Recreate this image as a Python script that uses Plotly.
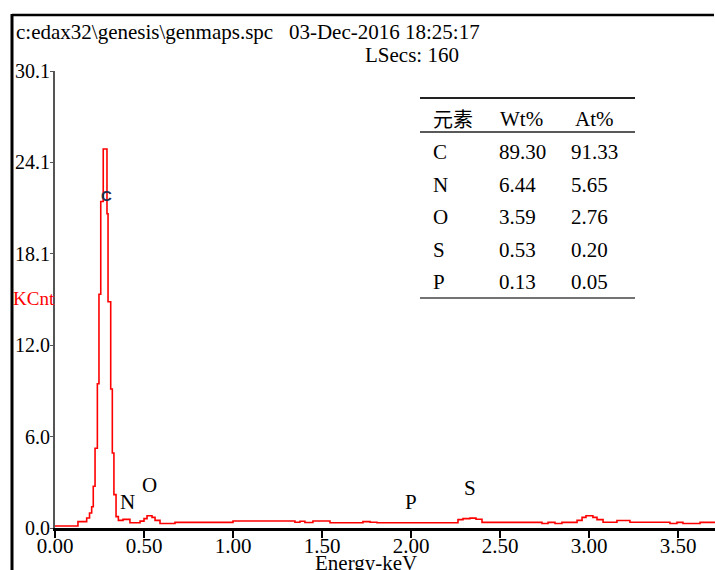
import plotly.graph_objects as go

# ---------------- data ----------------
energy_kev = [0.000, 0.129, 0.178, 0.194, 0.206, 0.215, 0.225, 0.238, 0.247, 0.257,
              0.271, 0.292, 0.298, 0.313, 0.322, 0.331, 0.343, 0.356, 0.382, 0.421,
              0.478, 0.500, 0.517, 0.545, 0.562, 0.590, 0.674, 1.000, 1.348, 1.376,
              1.404, 1.449, 1.545, 1.730, 1.770, 1.809, 2.264, 2.292, 2.331, 2.365,
              2.399, 2.736, 2.770, 2.809, 2.848, 2.933, 2.961, 2.983, 3.022, 3.045,
              3.079, 3.157, 3.230, 3.455, 3.494, 3.528, 3.624, 3.708]
kcnt = [0.13, 0.42, 0.66, 0.99, 1.40, 2.75, 5.25, 9.50, 15.40, 21.50,
        24.96, 20.70, 14.90, 9.16, 4.94, 2.20, 0.75, 0.50, 0.57, 0.35,
        0.45, 0.62, 0.81, 0.70, 0.50, 0.30, 0.37, 0.46, 0.38, 0.44,
        0.36, 0.46, 0.35, 0.42, 0.38, 0.35, 0.55, 0.62, 0.65, 0.58,
        0.37, 0.30, 0.37, 0.30, 0.37, 0.50, 0.70, 0.81, 0.70, 0.55,
        0.38, 0.49, 0.38, 0.30, 0.37, 0.30, 0.37, 0.37]

x_tickvals = [0.0, 0.5, 1.0, 1.5, 2.0, 2.5, 3.0, 3.5]
x_ticktext = ["0.00", "0.50", "1.00", "1.50", "2.00", "2.50", "3.00", "3.50"]
y_tickvals = [0.0, 6.02, 12.04, 18.06, 24.08, 30.1]
y_ticktext = ["0.0", "6.0", "12.0", "18.1", "24.1", "30.1"]

peak_labels = ["N", "O", "P", "S"]
peak_label_x = [0.41, 0.53, 2.00, 2.33]
peak_label_y = [1.71, 2.83, 1.73, 2.64]

table_elements = ["C", "N", "O", "S", "P"]
table_wt = ["89.30", "6.44", "3.59", "0.53", "0.13"]
table_at = ["91.33", "5.65", "2.76", "0.20", "0.05"]

header_text = "c:edax32\\genesis\\genmaps.spc   03-Dec-2016 18:25:17"
lsecs_text = "LSecs: 160"

# ---------------- layout geometry (pixels) ----------------
W, H = 715, 570
L, R, T, B = 55, 0, 71, 42
PW = W - L - R
PH = H - T - B
BOTTOM = H - B

def px(xp):
    return (xp - L) / PW

def py(yp):
    return (BOTTOM - yp) / PH

SERIF = "Liberation Serif, Times New Roman, serif"

fig = go.Figure()
fig.add_trace(go.Scatter(
    x=energy_kev, y=kcnt, mode="lines",
    line=dict(color="#ff0000", width=1.6, shape="hv"),
    hoverinfo="skip", showlegend=False,
))

annotations = []

def txt(text, xp, yp, size=21, color="black", xanchor="left", family=SERIF):
    annotations.append(dict(
        text=text, x=px(xp), y=py(yp), xref="paper", yref="paper",
        showarrow=False, xanchor=xanchor, yanchor="middle",
        font=dict(family=family, size=size, color=color),
    ))

txt(header_text, 14, 32)
txt(lsecs_text, 363, 55)
txt("KCnt", 34, 298, size=19, color="#ff0000", xanchor="center")
txt("Energy-keV", 366, 563, xanchor="center")

# element labels on the spectrum
for lab, ex, ey in zip(peak_labels, peak_label_x, peak_label_y):
    annotations.append(dict(
        text=lab, x=ex, y=ey, xref="x", yref="y", showarrow=False,
        xanchor="center", yanchor="middle",
        font=dict(family=SERIF, size=21, color="black"),
    ))
annotations.append(dict(
    text="<b>C</b>", x=0.292, y=21.9, xref="x", yref="y", showarrow=False,
    xanchor="center", yanchor="middle",
    font=dict(family="Liberation Sans, Arial, sans-serif", size=15, color="#1f2d4d"),
))

# table
txt("元素", 431, 119, size=20, family="Noto Sans CJK SC")
txt("Wt%", 521, 119, xanchor="center")
txt("At%", 594, 119, xanchor="center")
for i, (el, wv, av) in enumerate(zip(table_elements, table_wt, table_at)):
    yy = 152 + 32.5 * i
    txt(el, 431, yy)
    txt(wv, 497, yy)
    txt(av, 569, yy)

shapes = []

def hline(x0, x1, yp, width, color="black"):
    shapes.append(dict(type="line", xref="paper", yref="paper",
                       x0=px(x0), x1=px(x1), y0=py(yp), y1=py(yp),
                       line=dict(color=color, width=width)))

hline(420, 635, 98, 2, "#222")
hline(420, 635, 132, 1.5, "#222")
hline(420, 635, 298, 1.5, "#444")

# outer frame
hline(12, 714, 15, 2.5)
shapes.append(dict(type="line", xref="paper", yref="paper",
                   x0=px(12), x1=px(12), y0=py(14), y1=py(570),
                   line=dict(color="black", width=3)))

fig.update_layout(
    width=W, height=H,
    margin=dict(l=L, r=R, t=T, b=B, pad=0),
    paper_bgcolor="white", plot_bgcolor="white",
    font=dict(family=SERIF, size=21, color="black"),
    annotations=annotations, shapes=shapes,
    showlegend=False,
    xaxis=dict(
        range=[0, PW / 178.0], tickvals=x_tickvals, ticktext=x_ticktext,
        showgrid=False, zeroline=False, showline=True, linecolor="black", linewidth=3,
        ticks="outside", ticklen=7, tickwidth=1.5, tickcolor="black",
        tickfont=dict(family=SERIF, size=21, color="black"),
        ticklabelstandoff=-10,
    ),
    yaxis=dict(
        range=[0, 30.1], tickvals=y_tickvals, ticktext=y_ticktext,
        showgrid=False, zeroline=False, showline=True, linecolor="#555", linewidth=2,
        ticks="outside", ticklen=3, tickwidth=1, tickcolor="#555",
        tickfont=dict(family=SERIF, size=20, color="black"),
        ticklabelstandoff=-4,
    ),
)

fig.write_html(
    "out.html",
    config={"displayModeBar": False},
    post_script="document.body.style.margin='0';document.body.style.overflow='hidden';",
)
